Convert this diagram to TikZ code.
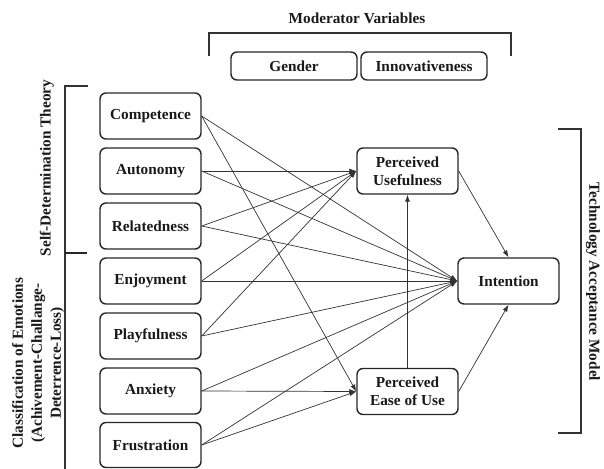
\documentclass[tikz,border=0pt]{standalone}
\usepackage{fontspec}
\setmainfont{Liberation Serif}
\usetikzlibrary{arrows.meta}
\begin{document}
\begin{tikzpicture}[x=1pt,y=-1pt,
  box/.style={draw=black!85, line width=1.4pt, rounded corners=6pt, minimum width=101pt, minimum height=46pt, inner sep=2pt, align=center, text=black!90, font=\fontsize{15.3}{18}\selectfont\bfseries},
  modbox/.style={box, minimum width=126pt, minimum height=28pt},
  arr/.style={draw=black!80, line width=0.7pt, -{Latex[length=7pt,width=5pt]}},
  brk/.style={draw=black!80, line width=1.5pt},
  lbl/.style={font=\fontsize{15.3}{19}\selectfont\bfseries, text=black!90, inner sep=0pt, align=center}
]
\useasboundingbox (0,0) rectangle (604,468);
% titles
\node[lbl] (modt) at (357,18) {Moderator Variables};
\node[lbl, rotate=90] (sdt) at (47,168) {Self-Determination Theory};
\node[lbl, rotate=90] (coe) at (38,363) {Classification of Emotions\\(Achivement-Challange-\\Deterrence-Loss)};
\node[lbl, rotate=-90] (tam) at (593,282) {Technology Acceptance Model};
% brackets
\draw[brk] (209,56) -- (209,33) -- (511,33) -- (511,56);
\draw[brk] (88,86) -- (65,86) -- (65,470);
\draw[draw=black!85, line width=2.6pt] (65,253) -- (87,253);
\draw[brk] (558,129) -- (581,129) -- (581,433) -- (558,433);
% moderators
\node[modbox] (gen) at (294,66) {Gender};
\node[modbox] (inn) at (424,66) {Innovativeness};
% left constructs
\node[box] (comp) at (150.5,116) {Competence};
\node[box] (auto) at (150.5,171) {Autonomy};
\node[box] (rel)  at (150.5,226) {Relatedness};
\node[box] (enj)  at (150.5,281) {Enjoyment};
\node[box] (play) at (150.5,336) {Playfulness};
\node[box] (anx)  at (150.5,391) {Anxiety};
\node[box, minimum height=45pt] (fru)  at (150.5,445) {Frustration};
% TAM
\node[box] (pu)   at (407.5,171) {Perceived\\Usefulness};
\node[box] (peou) at (407.5,391.5) {Perceived\\Ease of Use};
\node[box] (int)  at (508.5,281) {Intention};
% connectors
\draw[arr] (comp.east) -- (int.west);
\draw[arr] (comp.east) -- (peou.west);
\draw[arr] (auto.east) -- (pu.west);
\draw[arr] (auto.east) -- (int.west);
\draw[arr] (rel.east) -- (pu.west);
\draw[arr] (rel.east) -- (int.west);
\draw[arr] (enj.east) -- (pu.west);
\draw[arr] (enj.east) -- (int.west);
\draw[arr] (play.east) -- (pu.west);
\draw[arr] (play.east) -- (int.west);
\draw[arr] (anx.east) -- (peou.west);
\draw[arr] (anx.east) -- (int.west);
\draw[arr] (fru.east) -- (peou.west);
\draw[arr] (fru.east) -- (int.west);
\draw[arr] (peou.north) -- (pu.south);
\draw[arr] (pu.east) -- (int.north);
\draw[arr] (peou.east) -- (int.south);
\end{tikzpicture}
\end{document}
